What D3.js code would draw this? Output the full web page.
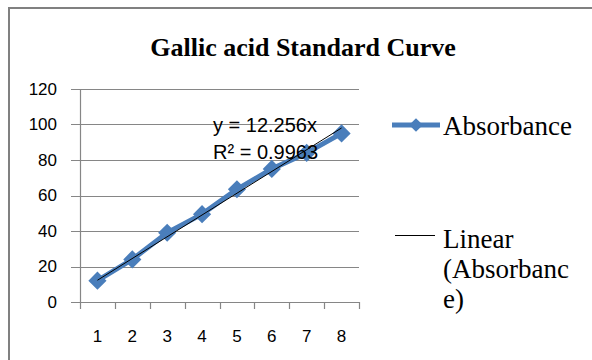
<!DOCTYPE html>
<html>
<head>
<meta charset="utf-8">
<script src="https://cdn.jsdelivr.net/npm/d3@7"></script>
<style>
  body { margin: 0; background: #fff; }
  svg { display: block; }
</style>
</head>
<body>
<div id="chart"></div>
<script>
// data
var categories = [1, 2, 3, 4, 5, 6, 7, 8];
var absorbance = [12, 24, 39, 49.5, 63.5, 75, 84, 95];
var yTicks = [0, 20, 40, 60, 80, 100, 120];
var slope = 12.256;
var eqLabels = ["y = 12.256x", "R² = 0.9963"];
var legendLabels = ["Absorbance", "Linear", "(Absorbanc", "e)"];

var svgWidth = 592;
var svgHeight = 360;

var svg = d3.select("#chart").append("svg")
  .attr("width", svgWidth)
  .attr("height", svgHeight);

// outer chart frame (only top and left edge visible)
svg.append("path")
  .attr("d", "M9,360 L9,8 L592,8")
  .attr("fill", "none")
  .attr("stroke", "#808080")
  .attr("stroke-width", 2);

// title
svg.append("text")
  .attr("x", 303)
  .attr("y", 56)
  .attr("text-anchor", "middle")
  .attr("font-family", "'Liberation Serif', 'Times New Roman', serif")
  .attr("font-weight", "bold")
  .attr("font-size", "26px")
  .attr("fill", "#000")
  .text("Gallic acid Standard Curve");

var margin = { left: 80, top: 89, right: 233, bottom: 58 };
var width = svgWidth - margin.left - margin.right;   // 279
var height = svgHeight - margin.top - margin.bottom; // 213

var chartGroup = svg.append("g")
  .attr("transform", `translate(${margin.left}, ${margin.top})`);

var xBand = d3.scaleBand()
  .domain(categories)
  .range([0, width]);

var yScale = d3.scaleLinear()
  .domain([0, 120])
  .range([height, 0]);

// gridlines
chartGroup.append("g")
  .selectAll("line")
  .data(yTicks)
  .enter()
  .append("line")
  .attr("x1", -9)
  .attr("x2", width)
  .attr("y1", d => Math.round(yScale(d)) + 0.5)
  .attr("y2", d => Math.round(yScale(d)) + 0.5)
  .attr("stroke", "#868686")
  .attr("stroke-width", 1.2);

// y axis line
chartGroup.append("line")
  .attr("x1", 0.5).attr("x2", 0.5)
  .attr("y1", 0).attr("y2", height)
  .attr("stroke", "#868686")
  .attr("stroke-width", 1.2);

// x axis tick marks between categories
var xTickPos = categories.map(c => xBand(c)).concat([width]);
chartGroup.append("g")
  .selectAll("line")
  .data(xTickPos)
  .enter()
  .append("line")
  .attr("x1", d => Math.round(d) + 0.5)
  .attr("x2", d => Math.round(d) + 0.5)
  .attr("y1", height)
  .attr("y2", height + 7)
  .attr("stroke", "#868686")
  .attr("stroke-width", 1.2);

// y tick labels
chartGroup.append("g")
  .selectAll("text")
  .data(yTicks)
  .enter()
  .append("text")
  .attr("x", -23)
  .attr("y", d => yScale(d))
  .attr("dy", "0.35em")
  .attr("text-anchor", "end")
  .attr("font-family", "'Liberation Sans', Arial, sans-serif")
  .attr("font-size", "17px")
  .attr("fill", "#000")
  .text(d => d);

// x tick labels
chartGroup.append("g")
  .selectAll("text")
  .data(categories)
  .enter()
  .append("text")
  .attr("x", d => xBand(d) + xBand.bandwidth() / 2)
  .attr("y", height + 40)
  .attr("text-anchor", "middle")
  .attr("font-family", "'Liberation Sans', Arial, sans-serif")
  .attr("font-size", "17px")
  .attr("fill", "#000")
  .text(d => d);

var cx = d => xBand(d) + xBand.bandwidth() / 2;

// data line
var line = d3.line()
  .x((d, i) => cx(categories[i]))
  .y(d => yScale(d));

chartGroup.append("path")
  .datum(absorbance)
  .attr("d", line)
  .attr("fill", "none")
  .attr("stroke", "#4a7ebb")
  .attr("stroke-width", 5)
  .attr("stroke-linejoin", "round");

// diamond markers
chartGroup.append("g")
  .selectAll("path")
  .data(absorbance)
  .enter()
  .append("path")
  .attr("d", d3.symbol().type(d3.symbolDiamond2).size(150))
  .attr("transform", (d, i) => `translate(${cx(categories[i])}, ${yScale(d)})`)
  .attr("fill", "#4a7ebb")
  .attr("stroke", "#4a7ebb")
  .attr("stroke-width", 2);

// linear trendline y = slope * x
chartGroup.append("line")
  .attr("x1", cx(categories[0]))
  .attr("y1", yScale(slope * categories[0]))
  .attr("x2", cx(categories[categories.length - 1]))
  .attr("y2", yScale(slope * categories[categories.length - 1]))
  .attr("stroke", "#000")
  .attr("stroke-width", 1);

// trendline equation
chartGroup.append("g")
  .selectAll("text")
  .data(eqLabels)
  .enter()
  .append("text")
  .attr("x", 133)
  .attr("y", (d, i) => 43 + i * 27)
  .attr("font-family", "'Liberation Sans', Arial, sans-serif")
  .attr("font-size", "20px")
  .attr("fill", "#000")
  .text(d => d);

// legend
var legend = svg.append("g");

legend.append("line")
  .attr("x1", 392).attr("x2", 440)
  .attr("y1", 125).attr("y2", 125)
  .attr("stroke", "#4a7ebb")
  .attr("stroke-width", 5);

legend.append("path")
  .attr("d", d3.symbol().type(d3.symbolDiamond2).size(120))
  .attr("transform", "translate(416, 125)")
  .attr("fill", "#4a7ebb");

legend.append("line")
  .attr("x1", 395).attr("x2", 435)
  .attr("y1", 235.5).attr("y2", 235.5)
  .attr("stroke", "#000")
  .attr("stroke-width", 1);

legend.selectAll("text")
  .data(legendLabels)
  .enter()
  .append("text")
  .attr("x", 443)
  .attr("y", (d, i) => i === 0 ? 135 : 218 + i * 30)
  .attr("font-family", "'Liberation Serif', 'Times New Roman', serif")
  .attr("font-size", "27px")
  .attr("fill", "#000")
  .text(d => d);
</script>
</body>
</html>
